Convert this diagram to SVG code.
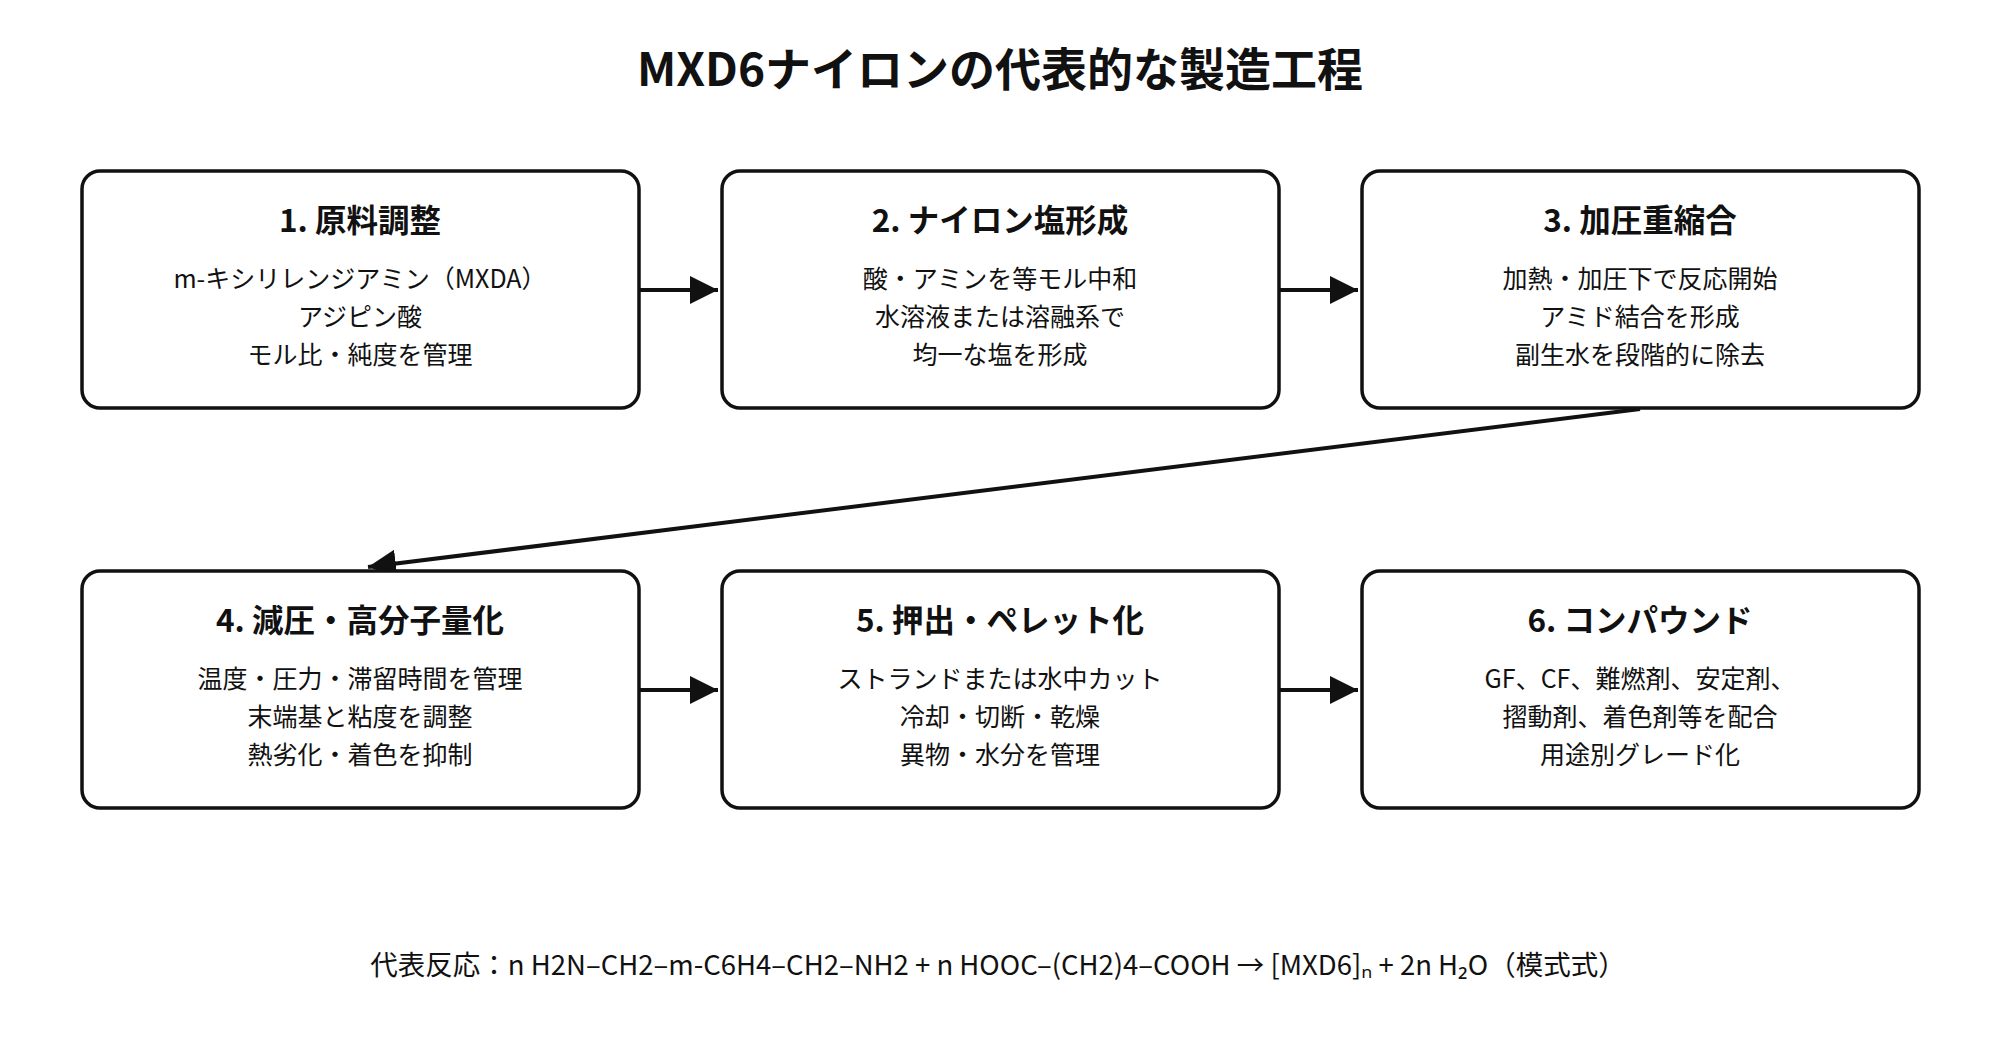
<svg xmlns="http://www.w3.org/2000/svg" width="2000" height="1050" viewBox="0 0 2000 1050">
<defs>
<style>
text{font-family:"Noto Sans CJK JP","Noto Sans",sans-serif;fill:#111;text-anchor:middle}
.t{font-size:46px;font-weight:700}
.h{font-size:31.5px;font-weight:700}
.b{font-size:25px}
.f{font-size:27.5px}
rect{fill:#fff;stroke:#111;stroke-width:3.5}
.c line{stroke:#111;stroke-width:4}
</style>
<marker id="a" markerWidth="8" markerHeight="8" refX="7" refY="4" orient="auto" markerUnits="strokeWidth"><path d="M0,0.5 L7,4 L0,7.5Z" fill="#111"/></marker>
</defs>
<rect width="2000" height="1050" style="fill:#fff;stroke:none"/>
<text class="t" x="1000" y="86">MXD6ナイロンの代表的な製造工程</text>
<g class="c">
<line x1="639" y1="290" x2="718" y2="290" marker-end="url(#a)"/>
<line x1="1279" y1="290" x2="1358" y2="290" marker-end="url(#a)"/>
<line x1="1640" y1="409" x2="368" y2="567" marker-end="url(#a)"/>
<line x1="639" y1="690" x2="718" y2="690" marker-end="url(#a)"/>
<line x1="1279" y1="690" x2="1358" y2="690" marker-end="url(#a)"/>
</g>
<g id="n1"><rect x="82" y="171" width="557" height="237" rx="18"/><text class="h" x="360" y="232">1. 原料調整</text><text class="b" x="360" y="288">m-キシリレンジアミン（MXDA）</text><text class="b" x="360" y="326">アジピン酸</text><text class="b" x="360" y="364">モル比・純度を管理</text></g>
<g id="n2"><rect x="722" y="171" width="557" height="237" rx="18"/><text class="h" x="1000" y="232">2. ナイロン塩形成</text><text class="b" x="1000" y="288">酸・アミンを等モル中和</text><text class="b" x="1000" y="326">水溶液または溶融系で</text><text class="b" x="1000" y="364">均一な塩を形成</text></g>
<g id="n3"><rect x="1362" y="171" width="557" height="237" rx="18"/><text class="h" x="1640" y="232">3. 加圧重縮合</text><text class="b" x="1640" y="288">加熱・加圧下で反応開始</text><text class="b" x="1640" y="326">アミド結合を形成</text><text class="b" x="1640" y="364">副生水を段階的に除去</text></g>
<g id="n4"><rect x="82" y="571" width="557" height="237" rx="18"/><text class="h" x="360" y="632">4. 減圧・高分子量化</text><text class="b" x="360" y="688">温度・圧力・滞留時間を管理</text><text class="b" x="360" y="726">末端基と粘度を調整</text><text class="b" x="360" y="764">熱劣化・着色を抑制</text></g>
<g id="n5"><rect x="722" y="571" width="557" height="237" rx="18"/><text class="h" x="1000" y="632">5. 押出・ペレット化</text><text class="b" x="1000" y="688">ストランドまたは水中カット</text><text class="b" x="1000" y="726">冷却・切断・乾燥</text><text class="b" x="1000" y="764">異物・水分を管理</text></g>
<g id="n6"><rect x="1362" y="571" width="557" height="237" rx="18"/><text class="h" x="1640" y="632">6. コンパウンド</text><text class="b" x="1640" y="688">GF、CF、難燃剤、安定剤、</text><text class="b" x="1640" y="726">摺動剤、着色剤等を配合</text><text class="b" x="1640" y="764">用途別グレード化</text></g>
<text class="f" x="998" y="975">代表反応：n H2N–CH2–m-C6H4–CH2–NH2 + n HOOC–(CH2)4–COOH → [MXD6]ₙ + 2n H₂O（模式式）</text>
</svg>
